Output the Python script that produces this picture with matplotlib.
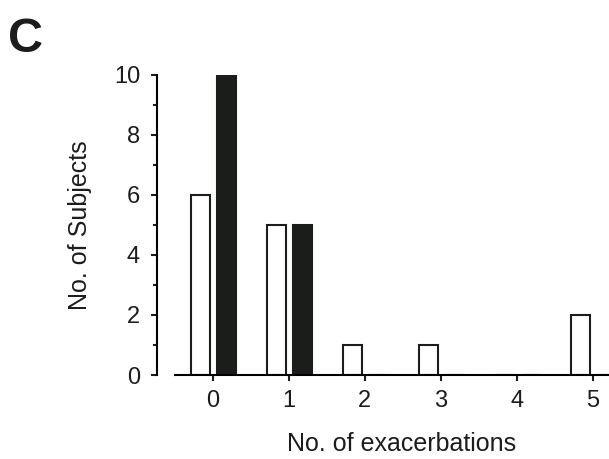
import numpy as np
import matplotlib.pyplot as plt

plt.rcParams['font.family'] = ['Liberation Sans', 'DejaVu Sans']

exacerbations = [0, 1, 2, 3, 4, 5]
group_open = [6, 5, 1, 1, 0, 2]
group_filled = [10, 5, 0, 0, 0, 0]

ink = '#1b1d1a'

fig = plt.figure(figsize=(6.09, 4.59), dpi=100)
ax = fig.add_axes([0.287, 0.183, 0.713, 0.654])

x = np.array(exacerbations)
w = 0.25
ax.bar(x - 0.165, group_open, width=w, color='white', edgecolor=ink, linewidth=1.5)
ax.bar(x + 0.185, group_filled, width=w, color=ink, edgecolor=ink, linewidth=1.5)

ax.set_xlim(-0.5, 5.21)
ax.set_ylim(0, 10)
ax.set_xticks(exacerbations)
ax.set_yticks([0, 2, 4, 6, 8, 10])
ax.set_yticks([1, 3, 5, 7, 9], minor=True)
for s in ['top', 'right']:
    ax.spines[s].set_visible(False)
ax.spines['left'].set_position(('outward', 13))
ax.spines['left'].set_linewidth(1.5)
ax.spines['bottom'].set_linewidth(1.5)
ax.tick_params(axis='both', which='major', labelsize=17, width=1.5, length=4, direction='out', colors=ink)
ax.tick_params(axis='y', which='minor', width=1.5, length=3, colors=ink)
ax.tick_params(axis='x', pad=7)
ax.tick_params(axis='y', pad=8)
ax.set_xlabel('No. of exacerbations', fontsize=18, color=ink)
ax.set_ylabel('No. of Subjects', fontsize=18, color=ink)
ax.xaxis.set_label_coords(0.523, -0.19)
ax.yaxis.set_label_coords(-0.19, 0.5)

fig.text(0.013, 0.963, 'C', fontsize=35, fontweight='bold', va='top', color=ink)

plt.savefig('out.png', dpi=100)
